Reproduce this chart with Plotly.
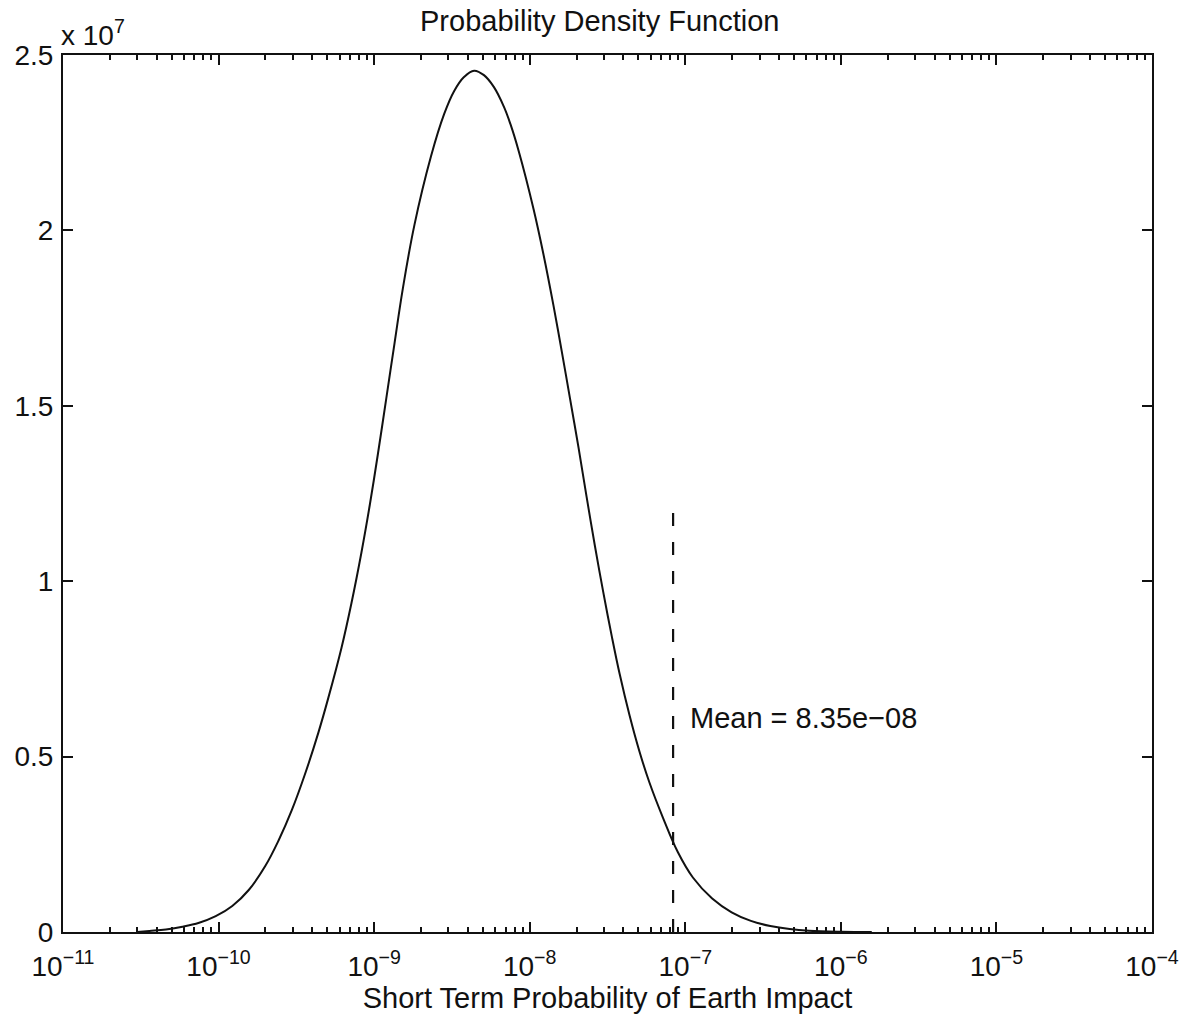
import math
import plotly.graph_objects as go

# Probability density of the short-term Earth impact probability
impact_prob = [
    3.01e-11, 3.59e-11, 4.59e-11, 5.86e-11, 7.50e-11, 9.59e-11, 1.225e-10, 1.563e-10,
    2.00e-10, 2.43e-10, 2.96e-10, 3.60e-10, 4.38e-10, 5.07e-10, 6.17e-10, 7.14e-10,
    8.28e-10, 9.38e-10, 1.059e-9, 1.197e-9, 1.352e-9, 1.528e-9, 1.816e-9, 2.32e-9,
    2.82e-9, 3.27e-9, 3.78e-9, 4.39e-9, 5.08e-9, 5.89e-9, 6.82e-9, 7.52e-9,
    8.51e-9, 1.059e-8, 1.227e-8, 1.422e-8, 1.607e-8, 1.816e-8, 2.06e-8, 2.32e-8,
    2.62e-8, 2.97e-8, 3.36e-8, 3.79e-8, 4.39e-8, 5.08e-8, 5.89e-8, 7.18e-8,
    8.95e-8, 1.119e-7, 1.489e-7, 1.986e-7, 2.64e-7, 3.52e-7, 4.69e-7, 6.24e-7,
    1.0e-6, 1.58e-6,
]
density = [
    0.0, 2.85e4, 7.1e4, 1.48e5, 2.62e5, 4.50e5, 7.41e5, 1.197e6,
    1.886e6, 2.607e6, 3.479e6, 4.510e6, 5.684e6, 6.667e6, 8.105e6, 9.365e6,
    1.0812e7, 1.2179e7, 1.3647e7, 1.5214e7, 1.6781e7, 1.8333e7, 2.0157e7, 2.2111e7,
    2.3319e7, 2.3974e7, 2.4373e7, 2.4553e7, 2.4425e7, 2.4083e7, 2.3527e7, 2.3028e7,
    2.2251e7, 2.0604e7, 1.9308e7, 1.7855e7, 1.6553e7, 1.5205e7, 1.3806e7, 1.2410e7,
    1.1026e7, 9.687e6, 8.456e6, 7.345e6, 6.162e6, 5.137e6, 4.254e6, 3.262e6,
    2.279e6, 1.553e6, 9.54e5, 5.61e5, 3.16e5, 1.71e5, 8.3e4, 3.4e4,
    6.0e3, 0.0,
]

mean_prob = 8.35e-08
mean_marker_top = 1.2275e7
mean_label_y = 6.1e6

x_tick_exponents = [-11, -10, -9, -8, -7, -6, -5, -4]
y_tick_values = [0, 0.5e7, 1.0e7, 1.5e7, 2.0e7, 2.5e7]
y_tick_labels = ["0", "0.5", "1", "1.5", "2", "2.5"]

FONT = "Liberation Sans, Arial, Helvetica, sans-serif"
INK = "#111111"
TEXT_SIZE = 29
TICK_SIZE = 28

x_tick_vals = [10.0 ** e for e in x_tick_exponents]
x_tick_text = [f"10<sup>\u2212{abs(e)}</sup>" for e in x_tick_exponents]
x_minor_vals = [k * 10.0 ** e for e in x_tick_exponents[:-1] for k in range(2, 10)]

fig = go.Figure()

# density curve
fig.add_trace(go.Scatter(
    x=impact_prob, y=density, mode="lines",
    line=dict(color=INK, width=2, shape="spline", smoothing=1.1),
    hoverinfo="skip", showlegend=False,
))

# dashed marker at the mean
fig.add_trace(go.Scatter(
    x=[mean_prob, mean_prob], y=[0, mean_marker_top], mode="lines",
    line=dict(color=INK, width=2.2, dash="13px,16px"),
    hoverinfo="skip", showlegend=False,
))

mean_text = f"Mean = {mean_prob:.2e}".replace("-", "\u2212")
fig.add_annotation(
    x=math.log10(mean_prob), y=mean_label_y, xref="x", yref="y",
    xanchor="left", yanchor="middle", xshift=15,
    text=mean_text, showarrow=False,
    font=dict(family=FONT, size=TEXT_SIZE, color=INK),
)

fig.add_annotation(
    x=0.4927, y=1.0, xref="paper", yref="paper", xanchor="center", yanchor="bottom",
    yshift=16, text="Probability Density Function", showarrow=False,
    font=dict(family=FONT, size=TEXT_SIZE, color=INK),
)

fig.add_annotation(
    x=0.0, y=1.0, xref="paper", yref="paper", xanchor="left", yanchor="bottom",
    xshift=-4, yshift=2, text="x 10<sup>7</sup>", showarrow=False,
    font=dict(family=FONT, size=TICK_SIZE, color=INK),
)

fig.update_xaxes(
    type="log", range=[-11, -4],
    tickmode="array", tickvals=x_tick_vals, ticktext=x_tick_text,
    ticks="inside", ticklen=10, tickwidth=1.5, tickcolor=INK,
    ticklabelstandoff=8,
    minor=dict(tickmode="array", tickvals=x_minor_vals, ticks="inside",
               ticklen=5, tickwidth=1.5, tickcolor=INK, showgrid=False),
    showline=True, linecolor=INK, linewidth=2, mirror="ticks",
    showgrid=False, zeroline=False,
    tickfont=dict(family=FONT, size=TICK_SIZE, color=INK),
    title=dict(text="Short Term Probability of Earth Impact",
               font=dict(family=FONT, size=TEXT_SIZE, color=INK), standoff=2),
)

fig.update_yaxes(
    range=[0, 2.5e7],
    tickmode="array", tickvals=y_tick_values, ticktext=y_tick_labels,
    ticks="inside", ticklen=10, tickwidth=1.5, tickcolor=INK,
    ticklabelstandoff=2,
    showline=True, linecolor=INK, linewidth=2, mirror="ticks",
    showgrid=False, zeroline=False,
    tickfont=dict(family=FONT, size=TICK_SIZE, color=INK),
)

fig.update_layout(
    width=1191, height=1022,
    margin=dict(l=63, r=32, t=55, b=90),
    paper_bgcolor="white", plot_bgcolor="white",
)

fig.write_html("out.html")
